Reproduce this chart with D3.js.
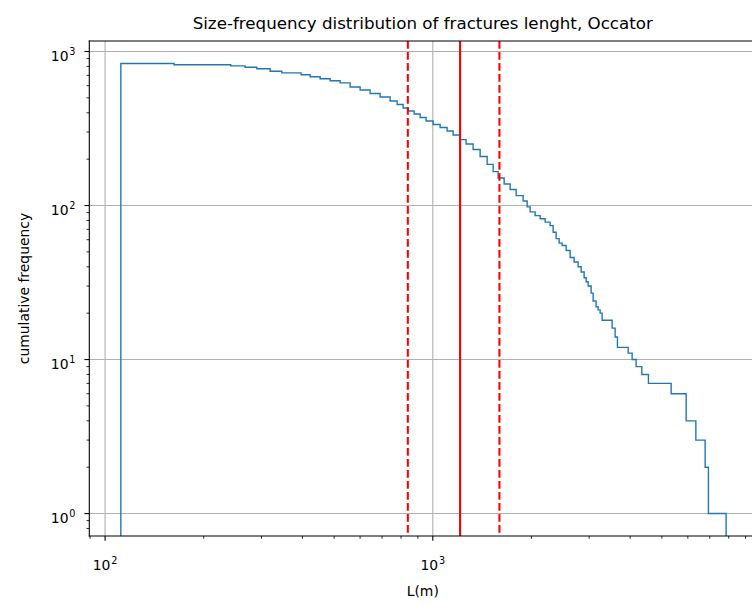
<!DOCTYPE html>
<html>
<head>
<meta charset="utf-8">
<script src="https://cdn.jsdelivr.net/npm/d3@7"></script>
<style>
  body { margin: 0; background: #fff; }
  svg { display: block; font-family: "DejaVu Sans", sans-serif; }
</style>
</head>
<body>
<div id="chart"></div>
<script>
// Cumulative (reverse) step histogram of fracture lengths
// each entry: count N holds from lengthStart[i] up to the next start
const lengthStart = [111.7, 162.3, 241.8, 267.4, 290.4, 318.8, 346.2, 396.3, 422.4, 453.1,
    486.1, 521.4, 559.3, 600.1, 643.7, 690.7, 740.8, 778.3, 812.0, 840.6,
    876.9, 914.6, 954.0, 1002.1, 1052.6, 1105.7, 1153.3, 1211.2, 1263.5, 1327.4,
    1394.3, 1464.8, 1527.9, 1582.5, 1650.7, 1721.8, 1795.9, 1886.4, 1940.2, 1981.6,
    2052.4, 2125.8, 2201.7, 2280.4, 2328.7, 2378.3, 2429.1, 2480.8, 2551.5, 2624.2,
    2699.0, 2775.9, 2835.1, 2895.5, 2936.5, 2978.0, 3041.4, 3084.5, 3150.2, 3194.8,
    3240.0, 3285.9, 3525, 3600, 3659, 3945, 4057, 4172, 4343, 4549,
    5337, 5930, 6348, 6776, 6934];
const cumCount = [836, 820, 807, 791, 772, 745, 727, 706, 685, 665,
    646, 626, 588, 562, 534, 506, 477, 453, 430, 411,
    393, 373, 354, 336, 321, 305, 287, 268, 251, 231,
    208, 185, 166, 151, 138, 127, 116, 107, 98, 91,
    86, 82, 78, 74, 67, 61, 57, 55, 51, 46,
    43, 40, 37, 34, 32, 30, 27, 24, 22, 21,
    20, 18, 16, 14, 12, 11, 10, 9, 8, 7,
    6, 4, 3, 2, 1];
const lengthEnd = 7852;

// vertical reference lines (mean and spread)
const meanLength = 1211;
const spreadLengths = [839, 1597];

const xMajor = [100, 1000];
const xMinor = [90, 200, 300, 400, 500, 600, 700, 800, 900,
    2000, 3000, 4000, 5000, 6000, 7000, 8000, 9000];
const yMajor = [1, 10, 100, 1000];
const yMinor = [0.8, 0.9, 2, 3, 4, 5, 6, 7, 8, 9, 20, 30, 40, 50, 60, 70, 80, 90,
    200, 300, 400, 500, 600, 700, 800, 900];

const titleText = 'Size-frequency distribution of fractures lenght, Occator';
const xLabel = 'L(m)';
const yLabel = 'cumulative frequency';

const width = 752, height = 605;
const margin = { left: 89.3, top: 41, right: 756.2, bottom: 536 };

const svg = d3.select('#chart').append('svg')
    .attr('width', width)
    .attr('height', height);

const x = d3.scaleLog().domain([89.5, 9700]).range([margin.left, margin.right]);
const y = d3.scaleLog().domain([0.715, 1170]).range([margin.bottom, margin.top]);

svg.append('defs').append('clipPath').attr('id', 'plot-clip')
    .append('rect')
    .attr('x', margin.left).attr('y', margin.top)
    .attr('width', margin.right - margin.left)
    .attr('height', margin.bottom - margin.top);

// Grid (major only)
const grid = svg.append('g').attr('class', 'grid')
    .attr('stroke', '#b0b0b0').attr('stroke-width', 1.1);
grid.selectAll('.gx').data(xMajor).enter().append('line')
    .attr('x1', d => x(d)).attr('x2', d => x(d))
    .attr('y1', margin.top).attr('y2', margin.bottom);
grid.selectAll('.gy').data(yMajor).enter().append('line')
    .attr('y1', d => y(d)).attr('y2', d => y(d))
    .attr('x1', margin.left).attr('x2', margin.right);

// Step histogram
const stepPoints = lengthStart.map((l, i) => [l, cumCount[i]]);
stepPoints.unshift([lengthStart[0], 0.1]);
stepPoints.push([lengthEnd, cumCount[cumCount.length - 1]]);
stepPoints.push([lengthEnd, 0.1]);

const line = d3.line()
    .x(d => x(d[0]))
    .y(d => y(d[1]))
    .curve(d3.curveStepAfter);

const plot = svg.append('g').attr('clip-path', 'url(#plot-clip)');
plot.append('path')
    .datum(stepPoints)
    .attr('fill', 'none')
    .attr('stroke', '#1f77b4')
    .attr('stroke-width', 1.39)
    .attr('d', line);

// Red reference lines
plot.append('line')
    .attr('x1', x(meanLength)).attr('x2', x(meanLength))
    .attr('y1', margin.top).attr('y2', margin.bottom)
    .attr('stroke', 'red').attr('stroke-width', 2.08);
plot.selectAll('.spread').data(spreadLengths).enter().append('line')
    .attr('x1', d => x(d)).attr('x2', d => x(d))
    .attr('y1', margin.top).attr('y2', margin.bottom)
    .attr('stroke', 'red').attr('stroke-width', 2.08)
    .attr('stroke-dasharray', '7.7,3.3');

// Spines
const spines = svg.append('g').attr('stroke', 'black').attr('stroke-width', 1.1)
    .attr('stroke-linecap', 'square');
spines.append('line').attr('x1', margin.left).attr('x2', margin.left)
    .attr('y1', margin.top).attr('y2', margin.bottom);
spines.append('line').attr('x1', margin.left).attr('x2', margin.right)
    .attr('y1', margin.bottom).attr('y2', margin.bottom);
spines.append('line').attr('x1', margin.left).attr('x2', margin.right)
    .attr('y1', margin.top).attr('y2', margin.top);
spines.append('line').attr('x1', margin.right).attr('x2', margin.right)
    .attr('y1', margin.top).attr('y2', margin.bottom);

// Ticks
const ticks = svg.append('g').attr('stroke', 'black').attr('stroke-width', 1.1);
ticks.selectAll('.xmaj').data(xMajor).enter().append('line')
    .attr('x1', d => x(d)).attr('x2', d => x(d))
    .attr('y1', margin.bottom).attr('y2', margin.bottom + 4.86);
ticks.selectAll('.xmin').data(xMinor).enter().append('line')
    .attr('x1', d => x(d)).attr('x2', d => x(d))
    .attr('y1', margin.bottom).attr('y2', margin.bottom + 2.78)
    .attr('stroke-width', 0.83);
ticks.selectAll('.ymaj').data(yMajor).enter().append('line')
    .attr('y1', d => y(d)).attr('y2', d => y(d))
    .attr('x1', margin.left).attr('x2', margin.left - 4.86);
ticks.selectAll('.ymin').data(yMinor).enter().append('line')
    .attr('y1', d => y(d)).attr('y2', d => y(d))
    .attr('x1', margin.left).attr('x2', margin.left - 2.78)
    .attr('stroke-width', 0.83);

// Tick labels as 10^n
function powerLabel(sel, v) {
    sel.append('tspan').text('10');
    sel.append('tspan')
        .attr('dy', -5.6).attr('dx', 0.8)
        .attr('font-size', 9.7)
        .text(Math.round(Math.log10(v)));
}

svg.append('g').selectAll('text').data(xMajor).enter().append('text')
    .attr('x', d => x(d))
    .attr('y', 570)
    .attr('text-anchor', 'middle')
    .attr('font-size', 13.9)
    .attr('fill', '#000')
    .each(function (d) { powerLabel(d3.select(this), d); });

svg.append('g').selectAll('text').data(yMajor).enter().append('text')
    .attr('x', 75.5)
    .attr('y', d => y(d) + 9)
    .attr('text-anchor', 'end')
    .attr('font-size', 13.9)
    .attr('fill', '#000')
    .each(function (d) { powerLabel(d3.select(this), d); });

// Labels and title
const cx = (margin.left + margin.right) / 2;
svg.append('text')
    .attr('x', cx).attr('y', 28.5)
    .attr('text-anchor', 'middle')
    .attr('font-size', 16.7)
    .text(titleText);

svg.append('text')
    .attr('x', cx).attr('y', 595.5)
    .attr('text-anchor', 'middle')
    .attr('font-size', 13.9)
    .text(xLabel);

svg.append('text')
    .attr('transform', `translate(28.5,${(margin.top + margin.bottom) / 2}) rotate(-90)`)
    .attr('text-anchor', 'middle')
    .attr('font-size', 13.9)
    .text(yLabel);
</script>
</body>
</html>
